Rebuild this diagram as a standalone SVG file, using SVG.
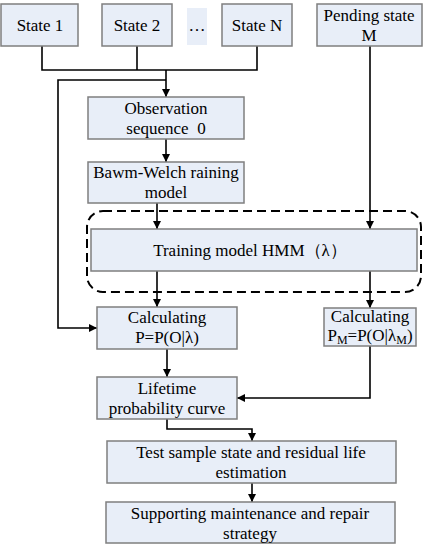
<svg xmlns="http://www.w3.org/2000/svg" width="429" height="550" viewBox="0 0 429 550">
<defs>
<style>
.box{fill:#e8eef8;stroke:#7f7f7f;stroke-width:1.5}
.ln{fill:none;stroke:#000;stroke-width:1.6}
.t{font-family:'Liberation Serif','Times New Roman',serif;font-size:17px;fill:#000;text-anchor:middle}
</style>
<marker id="ah" viewBox="0 0 10 10" refX="10" refY="5" markerWidth="8" markerHeight="8" markerUnits="userSpaceOnUse" orient="auto"><path d="M0,0 L10,5 L0,10 z" fill="#000"/></marker>
</defs>
<rect width="429" height="550" fill="#fff"/>
<g id="connectors">
<polyline class="ln" points="42,46 42,70 257,70 257,46"/>
<line class="ln" x1="137" y1="46" x2="137" y2="70"/>
<line class="ln" x1="166" y1="70" x2="166" y2="97" marker-end="url(#ah)"/>
<polyline class="ln" points="166,80 58,80 58,328 97,328" marker-end="url(#ah)"/>
<line class="ln" x1="166" y1="139" x2="166" y2="162" marker-end="url(#ah)"/>
<line class="ln" x1="157" y1="203" x2="157" y2="229" marker-end="url(#ah)"/>
<line class="ln" x1="370" y1="46" x2="370" y2="229" marker-end="url(#ah)"/>
<line class="ln" x1="157" y1="271" x2="157" y2="307" marker-end="url(#ah)"/>
<line class="ln" x1="370" y1="271" x2="370" y2="308" marker-end="url(#ah)"/>
<line class="ln" x1="167" y1="349" x2="167" y2="377" marker-end="url(#ah)"/>
<polyline class="ln" points="370,346 370,398 237,398" marker-end="url(#ah)"/>
<polyline class="ln" points="167,419 167,429 252,429 252,441" marker-end="url(#ah)"/>
<line class="ln" x1="252" y1="483" x2="252" y2="502" marker-end="url(#ah)"/>
<rect x="87" y="211" width="334" height="81" rx="16" fill="none" stroke="#000" stroke-width="2" stroke-dasharray="9,5"/>
</g>
<g id="state1"><rect class="box" x="1" y="4" width="77" height="42"/><text class="t" x="40" y="31">State 1</text></g>
<g id="state2"><rect class="box" x="102" y="4" width="70" height="42"/><text class="t" x="137" y="31">State 2</text></g>
<g id="dots"><rect x="187" y="8" width="20" height="37" fill="#e8eef8"/><text class="t" x="197" y="31">…</text></g>
<g id="stateN"><rect class="box" x="222" y="4" width="70" height="42"/><text class="t" x="257" y="31">State N</text></g>
<g id="pending"><rect class="box" x="317" y="4" width="105" height="42"/><text class="t" x="369" y="21">Pending state</text><text class="t" x="369" y="41">M</text></g>
<g id="observation"><rect class="box" x="88" y="97" width="156" height="42"/><text class="t" x="166" y="114">Observation</text><text class="t" x="166" y="134" xml:space="preserve">sequence  0</text></g>
<g id="bawm"><rect class="box" x="88" y="162" width="156" height="41"/><text class="t" x="166" y="178">Bawm-Welch raining</text><text class="t" x="166" y="198">model</text></g>
<g id="training"><rect class="box" x="91" y="229" width="326" height="42"/><text class="t" x="250" y="256">Training model HMM（λ）</text></g>
<g id="calcP"><rect class="box" x="97" y="307" width="140" height="42"/><text class="t" x="167" y="323">Calculating</text><text class="t" x="167" y="343">P=P(O|λ)</text></g>
<g id="calcPM"><rect class="box" x="324" y="308" width="92" height="38"/><text class="t" x="370" y="322">Calculating</text><text class="t" x="370" y="341">P<tspan font-size="12" dy="3">M</tspan><tspan dy="-3">=P(O|λ</tspan><tspan font-size="12" dy="3">M</tspan><tspan dy="-3">)</tspan></text></g>
<g id="lifetime"><rect class="box" x="97" y="377" width="140" height="42"/><text class="t" x="167" y="394">Lifetime</text><text class="t" x="167" y="414">probability curve</text></g>
<g id="test"><rect class="box" x="107" y="441" width="289" height="42"/><text class="t" x="251" y="458">Test sample state and residual life</text><text class="t" x="251" y="478">estimation</text></g>
<g id="support"><rect class="box" x="106" y="502" width="289" height="41"/><text class="t" x="250" y="519">Supporting maintenance and repair</text><text class="t" x="250" y="539">strategy</text></g>
</svg>
